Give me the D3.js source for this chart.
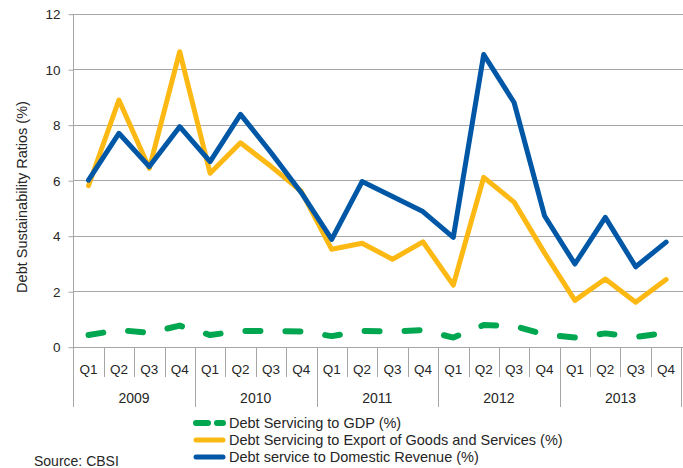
<!DOCTYPE html>
<html>
<head>
<meta charset="utf-8">
<script src="https://cdn.jsdelivr.net/npm/d3@7"></script>
<style>
  html, body { margin: 0; padding: 0; background: #fff; }
  svg { display: block; font-family: "Liberation Sans", Arial, sans-serif; }
</style>
</head>
<body>
<svg id="chart" width="683" height="468"></svg>
<script>
// Quarterly debt sustainability ratios, 2009–2013
const years = ["2009", "2010", "2011", "2012", "2013"];
const quarters = ["Q1", "Q2", "Q3", "Q4"];
const yTicks = [0, 2, 4, 6, 8, 10, 12];

const gdpRatio = [0.42, 0.60, 0.50, 0.76, 0.42, 0.57, 0.57, 0.55,
                  0.38, 0.57, 0.55, 0.60, 0.33, 0.78, 0.75, 0.44,
                  0.33, 0.48, 0.35, 0.50];
const exportRatio = [5.8, 8.89, 6.43, 10.63, 6.25, 7.35, 6.5, 5.6,
                     3.51, 3.73, 3.15, 3.78, 2.22, 6.1, 5.21, 3.38,
                     1.67, 2.44, 1.6, 2.42];
const revenueRatio = [6.0, 7.69, 6.49, 7.93, 6.67, 8.37, 7.0, 5.55,
                      3.87, 5.95, 5.41, 4.87, 3.94, 10.53, 8.8, 4.72,
                      2.98, 4.66, 2.88, 3.77];

const seriesNames = ["Debt Servicing to GDP (%)",
                     "Debt Servicing to Export of Goods and Services (%)",
                     "Debt service to Domestic Revenue (%)"];
const seriesColors = ["#00A650", "#FDB913", "#0057A6"];

const categories = [];
years.forEach(yr => quarters.forEach(q => categories.push(yr + "-" + q)));

const svg = d3.select("#chart");
const plotLeft = 73.3, plotRight = 681.3, plotTop = 13.7, plotBottom = 346.7;

const x = d3.scaleBand().domain(categories).range([plotLeft, plotRight]);
const y = d3.scaleLinear().domain([0, 12]).range([plotBottom, plotTop]);
const cx = c => x(c) + x.bandwidth() / 2;

const gridColor = "#A6A6A6";
const textColor = "#262626";
const tickFont = 13.5;
const labelFont = 14.5;

// horizontal gridlines
svg.append("g").selectAll("line").data(yTicks).join("line")
  .attr("x1", plotLeft).attr("x2", 683)
  .attr("y1", d => Math.round(y(d)) + 0.5).attr("y2", d => Math.round(y(d)) + 0.5)
  .attr("stroke", gridColor).attr("stroke-width", 1);

// value axis
const yAxis = svg.append("g")
  .attr("transform", `translate(${Math.round(plotLeft) + 0.5},0.5)`)
  .call(d3.axisLeft(y).tickValues(yTicks).tickSize(5).tickPadding(8).tickFormat(d3.format("d")));
yAxis.select(".domain").attr("stroke", gridColor)
  .attr("d", `M0,${y(12)}V${y(0)}`);
yAxis.selectAll(".tick line").attr("stroke", gridColor);
yAxis.selectAll(".tick text").attr("font-size", tickFont).attr("fill", textColor)
  .attr("font-family", "Liberation Sans, Arial, sans-serif");

// y-axis title
svg.append("text")
  .attr("transform", "translate(27,197) rotate(-90)")
  .attr("text-anchor", "middle")
  .attr("font-size", labelFont).attr("fill", textColor)
  .text("Debt Sustainability Ratios (%)");

// two-level category axis: quarter separators and year separators
const axisG = svg.append("g");
const bounds = d3.range(categories.length + 1);
const boundX = i => Math.round(i < categories.length ? x(categories[i]) : plotRight) + 0.5;
axisG.selectAll("line.sep").data(bounds).join("line")
  .attr("class", "sep")
  .attr("x1", boundX).attr("x2", boundX)
  .attr("y1", Math.round(plotBottom))
  .attr("y2", i => (i % 4 === 0 ? 407 : 377))
  .attr("stroke", gridColor).attr("stroke-width", 1);

axisG.selectAll("text.q").data(categories).join("text")
  .attr("class", "q")
  .attr("x", d => cx(d)).attr("y", 369)
  .attr("text-anchor", "middle").attr("dominant-baseline", "central")
  .attr("font-size", tickFont).attr("fill", textColor)
  .text(d => d.split("-")[1]);

axisG.selectAll("text.yr").data(years).join("text")
  .attr("class", "yr")
  .attr("x", d => (x(d + "-Q1") + x(d + "-Q4") + x.bandwidth()) / 2).attr("y", 398)
  .attr("text-anchor", "middle").attr("dominant-baseline", "central")
  .attr("font-size", 14).attr("fill", textColor)
  .text(d => d);

// series lines
const line = d3.line().x((d, i) => cx(categories[i])).y(d => y(d));
const seriesData = [gdpRatio, exportRatio, revenueRatio];

svg.append("path").datum(gdpRatio)
  .attr("d", line).attr("fill", "none")
  .attr("stroke", seriesColors[0]).attr("stroke-width", 6)
  .attr("stroke-linecap", "round").attr("stroke-linejoin", "round")
  .attr("stroke-dasharray", "15,25");

[1, 2].forEach(k => {
  svg.append("path").datum(seriesData[k])
    .attr("d", line).attr("fill", "none")
    .attr("stroke", seriesColors[k]).attr("stroke-width", 5)
    .attr("stroke-linecap", "round").attr("stroke-linejoin", "round");
});

// legend
const legendRows = [423, 440, 457];
const legend = svg.append("g");
seriesNames.forEach((name, k) => {
  const ly = legendRows[k];
  legend.append("line")
    .attr("x1", 196).attr("x2", 223).attr("y1", ly).attr("y2", ly)
    .attr("stroke", seriesColors[k])
    .attr("stroke-width", k === 0 ? 6 : 5)
    .attr("stroke-linecap", "round")
    .attr("stroke-dasharray", k === 0 ? "12,9" : null);
  legend.append("text")
    .attr("x", 229).attr("y", ly)
    .attr("dominant-baseline", "central")
    .attr("font-size", labelFont).attr("fill", textColor)
    .text(name);
});

// source note
svg.append("text")
  .attr("x", 34).attr("y", 461)
  .attr("dominant-baseline", "central")
  .attr("font-size", 14).attr("fill", textColor)
  .text("Source: CBSI");
</script>
</body>
</html>
